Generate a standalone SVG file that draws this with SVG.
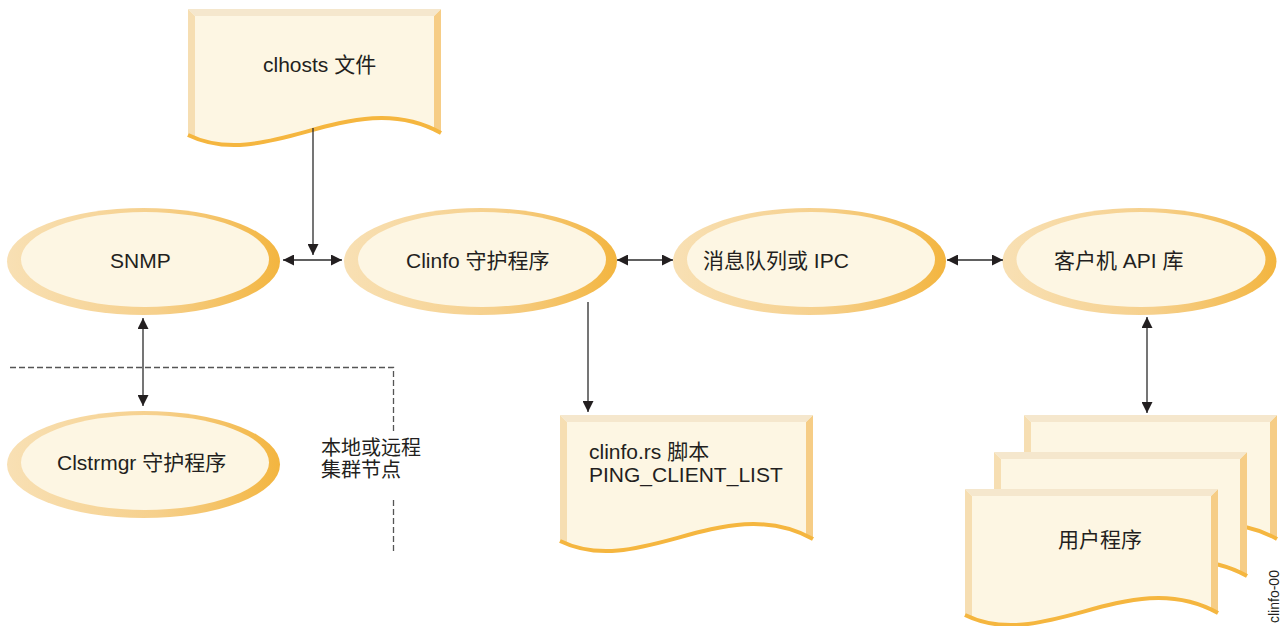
<svg xmlns="http://www.w3.org/2000/svg" xmlns:xlink="http://www.w3.org/1999/xlink" width="1281" height="626" viewBox="0 0 1281 626">
<style>
.t{font-family:"Liberation Sans","Noto Sans CJK SC",sans-serif;font-size:21px;fill:#231f20}
.s{font-size:20px}
.inner{fill:#fdf6e3}
.outer{fill:url(#eg)}
.conn{stroke:#2b2b2b;stroke-width:1.3;fill:none}
.dash{stroke:#555;stroke-width:1.3;fill:none;stroke-dasharray:6 3}
</style>
<defs>
<linearGradient id="eg" x1="0" y1="0" x2="1" y2="0">
<stop offset="0" stop-color="#f8e0b4"/>
<stop offset="0.55" stop-color="#f6d08c"/>
<stop offset="1" stop-color="#f3b53f"/>
</linearGradient>
<marker id="ah" markerUnits="userSpaceOnUse" markerWidth="11" markerHeight="11" viewBox="0 0 11 11" refX="11" refY="5.5" orient="auto-start-reverse">
<path d="M0,0 L11,5.5 L0,11 z" fill="#231f20"/>
</marker>
<clipPath id="dc">
<path d="M0,0 H253 V124 C165,75 80,165 0,126 Z"/>
</clipPath>
<symbol id="doc" overflow="visible">
<g clip-path="url(#dc)">
<rect x="0" y="0" width="253" height="170" fill="#fdf6e3"/>
<polygon points="0,0 7,7 7,170 0,170" fill="#f6deb2"/>
<polygon points="253,0 246,7 246,170 253,170" fill="#f6cd86"/>
<polygon points="0,0 253,0 246,7 7,7" fill="#f5e7cd"/>
</g>
<path d="M0,126 C80,165 165,75 253,124" fill="none" stroke="#f5b63f" stroke-width="4"/>
</symbol>
</defs>
<rect width="1281" height="626" fill="#ffffff"/>

<g id="clhosts">
<use xlink:href="#doc" href="#doc" x="188" y="9"/>
<text class="t" x="263" y="72">clhosts 文件</text>
</g>

<g id="snmp">
<ellipse class="outer" cx="143.5" cy="261.5" rx="136.5" ry="53.5"/>
<ellipse class="inner" cx="145" cy="259.5" rx="124" ry="47.5"/>
<text class="t" x="110" y="268">SNMP</text>
</g>

<g id="clinfo">
<ellipse class="outer" cx="480.5" cy="261.5" rx="136.5" ry="53.5"/>
<ellipse class="inner" cx="482" cy="259.5" rx="124" ry="47.5"/>
<text class="t" x="406" y="268">Clinfo 守护程序</text>
</g>

<g id="mq">
<ellipse class="outer" cx="809.5" cy="261.5" rx="136.5" ry="53.5"/>
<ellipse class="inner" cx="811" cy="259.5" rx="124" ry="47.5"/>
<text class="t" x="703" y="268">消息队列或 IPC</text>
</g>

<g id="clientapi">
<ellipse class="outer" cx="1139.5" cy="261.5" rx="137" ry="53.5"/>
<ellipse class="inner" cx="1141" cy="259.5" rx="124.5" ry="47.5"/>
<text class="t" x="1054" y="268">客户机 API 库</text>
</g>

<g id="clstrmgr">
<ellipse class="outer" cx="143.5" cy="464.5" rx="136.5" ry="53.5"/>
<ellipse class="inner" cx="145" cy="462.5" rx="124" ry="47.5"/>
<text class="t" x="57" y="470">Clstrmgr 守护程序</text>
</g>

<g id="clinfors">
<use xlink:href="#doc" href="#doc" x="560" y="415"/>
<text class="t" x="589" y="459">clinfo.rs 脚本</text>
<text class="t" x="589" y="482">PING_CLIENT_LIST</text>
</g>

<g id="userprogs">
<use xlink:href="#doc" href="#doc" x="1024" y="415"/>
<use xlink:href="#doc" href="#doc" x="994" y="452"/>
<use xlink:href="#doc" href="#doc" x="965" y="489"/>
<text class="t" x="1058" y="547">用户程序</text>
</g>

<g id="boundary">
<path class="dash" d="M10,367.5 H393.5 V432"/>
<path class="dash" d="M393.5,500 V552"/>
<text class="t s" x="321" y="455">本地或远程</text>
<text class="t s" x="321" y="477">集群节点</text>
</g>

<g id="connectors">
<path class="conn" d="M313,128 V255" marker-end="url(#ah)"/>
<path class="conn" d="M283,260 H342" marker-start="url(#ah)" marker-end="url(#ah)"/>
<path class="conn" d="M617,260 H673" marker-start="url(#ah)" marker-end="url(#ah)"/>
<path class="conn" d="M947,260 H1003" marker-start="url(#ah)" marker-end="url(#ah)"/>
<path class="conn" d="M143,318 V406" marker-start="url(#ah)" marker-end="url(#ah)"/>
<path class="conn" d="M588,302 V412" marker-end="url(#ah)"/>
<path class="conn" d="M1147,317 V413" marker-start="url(#ah)" marker-end="url(#ah)"/>
</g>

<text transform="translate(1279,623) rotate(-90)" style="font-family:'Liberation Sans',sans-serif;font-size:14px;fill:#231f20">clinfo-00</text>
</svg>
